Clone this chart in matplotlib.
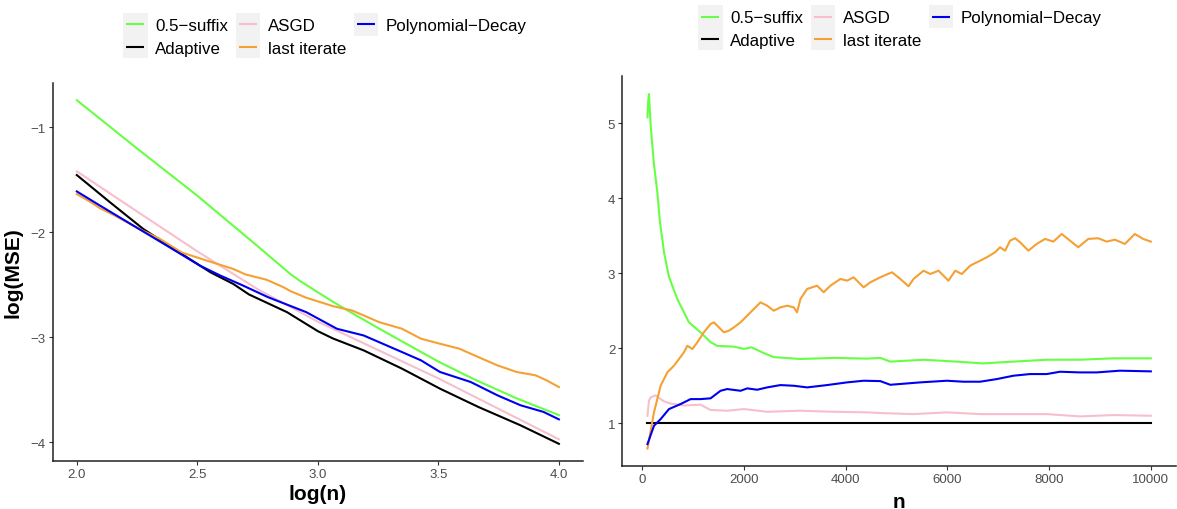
import matplotlib
matplotlib.use("Agg")
import matplotlib.pyplot as plt
import matplotlib.ticker as mticker
from matplotlib.legend_handler import HandlerBase
from matplotlib.patches import Rectangle
from matplotlib.lines import Line2D

plt.rcParams['font.family'] = ['Liberation Sans', 'DejaVu Sans']

# ---------------- data: left panel (log(n), log(MSE)) ----------------
suffix_logn = [2.0, 2.25, 2.5, 2.75, 2.888, 2.925, 3.0, 3.063, 3.125, 3.25, 3.375, 3.5, 3.65, 3.825, 4.0]
suffix_logmse = [-0.74, -1.20, -1.65, -2.13, -2.40, -2.46, -2.57, -2.66, -2.745, -2.91, -3.07, -3.23,
                 -3.40, -3.58, -3.74]

adaptive_logn = [2.0, 2.138, 2.276, 2.414, 2.511, 2.555, 2.649, 2.714, 2.872, 3.0, 3.063, 3.19, 3.349,
                 3.507, 3.666, 3.841, 4.0]
adaptive_logmse = [-1.453, -1.713, -1.967, -2.173, -2.316, -2.38, -2.49, -2.59, -2.759, -2.94, -3.01,
                   -3.123, -3.297, -3.488, -3.662, -3.837, -4.013]

asgd_logn = [2.0, 2.25, 2.5, 2.75, 3.0, 3.25, 3.5, 3.75, 4.0]
asgd_logmse = [-1.418, -1.80, -2.18, -2.54, -2.85, -3.12, -3.39, -3.68, -3.97]

last_logn = [2.0, 2.05, 2.097, 2.15, 2.262, 2.345, 2.435, 2.539, 2.649, 2.70, 2.787, 2.856, 2.888,
             2.95, 3.063, 3.142, 3.2, 3.254, 3.349, 3.428, 3.507, 3.587, 3.666, 3.745, 3.825, 3.904,
             3.95, 4.0]
last_logmse = [-1.634, -1.70, -1.77, -1.83, -1.97, -2.062, -2.19, -2.268, -2.347, -2.40, -2.45, -2.52,
               -2.56, -2.62, -2.702, -2.743, -2.80, -2.854, -2.917, -3.012, -3.06, -3.107, -3.187,
               -3.266, -3.329, -3.361, -3.41, -3.472]

poly_logn = [2.0, 2.097, 2.235, 2.373, 2.511, 2.595, 2.69, 2.793, 2.952, 3.079, 3.19, 3.349, 3.428,
             3.507, 3.634, 3.745, 3.841, 3.936, 4.0]
poly_logmse = [-1.609, -1.745, -1.935, -2.125, -2.316, -2.41, -2.506, -2.616, -2.759, -2.917, -2.981,
               -3.139, -3.218, -3.329, -3.424, -3.551, -3.646, -3.709, -3.78]

# ---------------- data: right panel (n, MSE ratio) ----------------
suffix_n = [100, 115, 130, 145, 163, 196, 228, 294, 346, 425, 523, 687, 916, 1145, 1341, 1473, 1800,
            1995, 2150, 2400, 2584, 3108, 3762, 4417, 4679, 4875, 5530, 6184, 6707, 7034, 7952,
            8606, 9260, 10000]
suffix_ratio = [5.08, 5.30, 5.39, 5.20, 4.97, 4.70, 4.45, 4.08, 3.68, 3.28, 2.95, 2.655, 2.344, 2.21,
                2.08, 2.03, 2.02, 1.99, 2.01, 1.93, 1.88, 1.855, 1.87, 1.86, 1.87, 1.82, 1.845,
                1.82, 1.796, 1.81, 1.845, 1.845, 1.864, 1.864]

adaptive_n = [100, 10000]
adaptive_ratio = [1.0, 1.0]

asgd_n = [100, 130, 163, 261, 359, 425, 556, 817, 1145, 1341, 1669, 1995, 2454, 3108, 3762, 4417,
          4679, 5333, 5988, 6643, 7297, 7952, 8606, 9260, 10000]
asgd_ratio = [1.098, 1.30, 1.343, 1.37, 1.32, 1.29, 1.26, 1.235, 1.245, 1.175, 1.165, 1.187, 1.151,
              1.165, 1.151, 1.143, 1.134, 1.12, 1.143, 1.12, 1.12, 1.12, 1.089, 1.107, 1.098]

last_n = [100, 228, 359, 491, 620, 719, 817, 884, 982, 1080, 1209, 1341, 1406, 1473, 1602, 1700,
          1799, 1930, 2062, 2191, 2323, 2454, 2584, 2715, 2847, 2977, 3043, 3108, 3240, 3436, 3566,
          3697, 3894, 4025, 4155, 4351, 4483, 4679, 4909, 5072, 5235, 5333, 5530, 5661, 5824, 6020,
          6152, 6283, 6446, 6643, 6774, 6937, 7035, 7133, 7232, 7330, 7428, 7591, 7756, 7919, 8082,
          8247, 8410, 8573, 8769, 8965, 9130, 9293, 9489, 9686, 9849, 10000]
last_ratio = [0.66, 1.143, 1.498, 1.677, 1.765, 1.854, 1.944, 2.032, 1.988, 2.077, 2.211, 2.322,
              2.344, 2.299, 2.211, 2.232, 2.277, 2.344, 2.433, 2.522, 2.611, 2.566, 2.499, 2.544,
              2.566, 2.544, 2.478, 2.656, 2.789, 2.833, 2.745, 2.833, 2.923, 2.90, 2.945, 2.811,
              2.878, 2.945, 3.012, 2.923, 2.825, 2.923, 3.033, 2.989, 3.033, 2.90, 3.033, 2.989,
              3.10, 3.167, 3.212, 3.279, 3.346, 3.30, 3.434, 3.466, 3.413, 3.30, 3.39, 3.457,
              3.421, 3.523, 3.434, 3.346, 3.457, 3.466, 3.421, 3.447, 3.39, 3.523, 3.457, 3.421]

poly_n = [100, 228, 359, 523, 752, 948, 1145, 1341, 1537, 1669, 1930, 2062, 2258, 2454, 2715, 2977,
          3240, 3632, 4025, 4351, 4679, 4875, 5464, 5988, 6315, 6643, 6970, 7297, 7624, 7952, 8214,
          8606, 8934, 9391, 10000]
poly_ratio = [0.72, 0.964, 1.053, 1.187, 1.254, 1.32, 1.32, 1.33, 1.431, 1.454, 1.431, 1.463, 1.445,
              1.476, 1.507, 1.498, 1.476, 1.507, 1.543, 1.565, 1.56, 1.511, 1.543, 1.565, 1.552,
              1.552, 1.587, 1.632, 1.654, 1.654, 1.685, 1.676, 1.676, 1.699, 1.69]

labels = ['0.5\u2212suffix', 'Adaptive', 'ASGD', 'last iterate', 'Polynomial\u2212Decay']
colors = ['#66FF44', '#000000', '#F7BFCB', '#F5A033', '#0000F0']

left_series = [(suffix_logn, suffix_logmse), (adaptive_logn, adaptive_logmse),
               (asgd_logn, asgd_logmse), (last_logn, last_logmse), (poly_logn, poly_logmse)]
right_series = [(suffix_n, suffix_ratio), (adaptive_n, adaptive_ratio), (asgd_n, asgd_ratio),
                (last_n, last_ratio), (poly_n, poly_ratio)]


class KeyHandler(HandlerBase):
    def create_artists(self, legend, orig_handle, xdescent, ydescent, width, height, fontsize, trans):
        gap = legend.labelspacing * fontsize
        x0, y0 = -xdescent, -ydescent
        rect = Rectangle((x0, y0 - gap / 2), width, height + gap, facecolor='#F2F2F2',
                         edgecolor='none', transform=trans)
        line = Line2D([x0 + 0.13 * width, x0 + 0.87 * width], [y0 + height / 2] * 2,
                      color=orig_handle.get_color(), lw=orig_handle.get_linewidth(),
                      solid_capstyle='butt', transform=trans)
        return [rect, line]


fig = plt.figure(figsize=(11.77, 5.10), dpi=100)
ax1 = fig.add_axes([0.04477, 0.09412, 0.45055, 0.74118])
ax2 = fig.add_axes([0.52872, 0.08373, 0.47043, 0.76471])


def style(ax):
    for s in ['top', 'right']:
        ax.spines[s].set_visible(False)
    for s in ['left', 'bottom']:
        ax.spines[s].set_color('#222222')
        ax.spines[s].set_linewidth(1.1)
    ax.tick_params(direction='out', length=2.6, width=0.8, color='#333333',
                   labelcolor='#4D4D4D', labelsize=9.5, pad=2.5)


handles = []
for (x, y), c, lab in zip(left_series, colors, labels):
    h, = ax1.plot(x, y, color=c, lw=1.5, label=lab)
    handles.append(h)
for (x, y), c in zip(right_series, colors):
    ax2.plot(x, y, color=c, lw=1.5)

style(ax1)
style(ax2)
ax1.xaxis.set_major_locator(mticker.MultipleLocator(0.5))
ax1.yaxis.set_major_locator(mticker.MultipleLocator(1))
ax2.xaxis.set_major_locator(mticker.MultipleLocator(2000))
ax2.yaxis.set_major_locator(mticker.MultipleLocator(1))

ax1.set_xlabel('log(n)', fontsize=15, fontweight='bold', labelpad=3)
ax1.set_ylabel('log(MSE)', fontsize=15, fontweight='bold', labelpad=6)
ax2.set_xlabel('n', fontsize=15, fontweight='bold', labelpad=5)

leg_kw = dict(ncol=3, frameon=False, borderpad=0, borderaxespad=0, handler_map={Line2D: KeyHandler()},
              handlelength=1.43, handleheight=1.2, labelspacing=0.3, handletextpad=0.45,
              columnspacing=0.45, fontsize=12.2, loc='center left', bbox_transform=fig.transFigure)
ax1.legend(handles, labels, bbox_to_anchor=(0.1048, 0.928), **leg_kw)
ax2.legend(handles, labels, bbox_to_anchor=(0.5933, 0.9434), **leg_kw)

fig.savefig('out.png', dpi=100)
